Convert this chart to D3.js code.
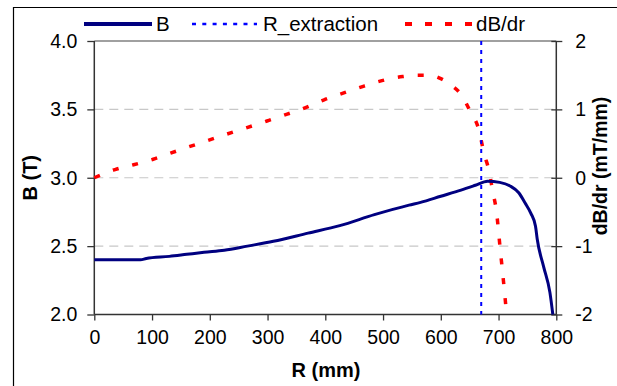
<!DOCTYPE html>
<html>
<head>
<meta charset="utf-8">
<script src="https://cdn.jsdelivr.net/npm/d3@7"></script>
<style>
  html, body { margin: 0; padding: 0; background: #fff; }
  svg { display: block; font-family: "Liberation Sans", Arial, sans-serif; }
</style>
</head>
<body>
<svg id="chart" width="617" height="386"></svg>
<script>
// Radial field profile B(R) in tesla
const radiusB = [0, 80, 90, 130, 160, 190, 225, 265, 310, 370, 425, 485, 545, 565, 600, 635, 660, 681, 702, 720, 735, 746, 756, 764, 767, 778, 789, 794];
const fieldB  = [2.40, 2.40, 2.41, 2.425, 2.44, 2.455, 2.47, 2.50, 2.535, 2.595, 2.65, 2.73, 2.80, 2.82, 2.865, 2.91, 2.945, 2.975, 2.966, 2.94, 2.89, 2.815, 2.74, 2.645, 2.55, 2.35, 2.16, 2.0];

// Field gradient dB/dr in mT/mm
const radiusD = [0, 36, 68, 102, 132, 163, 195, 230, 263, 299, 334, 367, 398, 432, 463, 498, 534, 560, 580, 600, 620, 635, 651, 666, 675, 683, 690, 696, 703, 710, 714];
const gradD   = [0, 0.12, 0.19, 0.27, 0.36, 0.45, 0.54, 0.64, 0.73, 0.83, 0.93, 1.03, 1.14, 1.24, 1.33, 1.42, 1.48, 1.50, 1.50, 1.45, 1.34, 1.22, 0.97, 0.70, 0.35, 0.12, -0.2, -0.47, -1.05, -1.64, -2.0];

// Extraction radius (mm)
const rExtraction = 670;

// Axis ticks
const xTicks = [0, 100, 200, 300, 400, 500, 600, 700, 800];
const yLeftTicks = [2.0, 2.5, 3.0, 3.5, 4.0];
const yRightTicks = [-2, -1, 0, 1, 2];

const seriesNames = ["B", "R_extraction", "dB/dr"];

const svg = d3.select("#chart");
const plotLeft = 94.3, plotRight = 556.3, plotTop = 41, plotBottom = 314.5;
const font = "'Liberation Sans', Arial, sans-serif";

const x = d3.scaleLinear().domain([0, 800]).range([plotLeft, plotRight]);
const yL = d3.scaleLinear().domain([2, 4]).range([plotBottom, plotTop]);
const yR = d3.scaleLinear().domain([-2, 2]).range([plotBottom, plotTop]);

// Outer frame
svg.append("path")
  .attr("d", "M13.5,400 V7.5 H640")
  .attr("fill", "none").attr("stroke", "#000").attr("stroke-width", 1.2);

// Horizontal gridlines
svg.append("g").selectAll("line")
  .data([2.5, 3.0, 3.5]).join("line")
  .attr("x1", plotLeft).attr("x2", plotRight)
  .attr("y1", d => yL(d)).attr("y2", d => yL(d))
  .attr("stroke", "#c8c8c8").attr("stroke-width", 1.2)
  .attr("stroke-dasharray", "9,6");

// Top border of plot area
svg.append("line")
  .attr("x1", plotLeft).attr("x2", plotRight)
  .attr("y1", yL(4)).attr("y2", yL(4))
  .attr("stroke", "#808080").attr("stroke-width", 1.5);

// Left axis
const gL = svg.append("g").attr("transform", `translate(${plotLeft},0)`)
  .call(d3.axisLeft(yL).tickValues(yLeftTicks).tickFormat(d3.format(".1f")).tickSize(7).tickPadding(10));
// Right axis
const gR = svg.append("g").attr("transform", `translate(${plotRight},0)`)
  .call(d3.axisRight(yR).tickValues(yRightTicks).tickFormat(d => d < 0 ? "-" + Math.abs(d) : d).tickSize(6).tickPadding(13));
gR.selectAll(".tick line").attr("x1", -5);
// Bottom axis
const gB = svg.append("g").attr("transform", `translate(0,${plotBottom})`)
  .call(d3.axisBottom(x).tickValues(xTicks).tickSize(6).tickPadding(10));

[gL, gR, gB].forEach(g => {
  g.select(".domain").attr("stroke", "#333").attr("stroke-width", 1.5);
  g.selectAll(".tick line").attr("stroke", "#333").attr("stroke-width", 1.3);
  g.selectAll(".tick text").attr("font-family", font).attr("font-size", "19.5px").attr("fill", "#000");
});
gB.select(".domain").attr("d", `M${plotLeft},0H${plotRight}`);
gL.select(".domain").attr("d", `M0,${plotTop}V${plotBottom}`);
gR.select(".domain").attr("d", `M0,${plotTop}V${plotBottom}`);

// Axis titles
svg.append("text")
  .attr("transform", `translate(37,${(plotTop + plotBottom) / 2}) rotate(-90)`)
  .attr("text-anchor", "middle").attr("font-family", font)
  .attr("font-weight", "bold").attr("font-size", "20px").text("B (T)");
svg.append("text")
  .attr("transform", `translate(607,166) rotate(-90)`)
  .attr("text-anchor", "middle").attr("font-family", font)
  .attr("font-weight", "bold").attr("font-size", "19.5px").text("dB/dr (mT/mm)");
svg.append("text")
  .attr("x", 326).attr("y", 377)
  .attr("text-anchor", "middle").attr("font-family", font)
  .attr("font-weight", "bold").attr("font-size", "20px").text("R (mm)");

// Data lines
const lineB = d3.line().x((d, i) => x(radiusB[i])).y(d => yL(d)).curve(d3.curveMonotoneX);
const lineD = d3.line().x((d, i) => x(radiusD[i])).y(d => yR(d)).curve(d3.curveMonotoneX);

svg.append("path").datum(gradD)
  .attr("d", lineD).attr("fill", "none")
  .attr("stroke", "#ff0000").attr("stroke-width", 3.5)
  .attr("stroke-dasharray", "6,14");

svg.append("path").datum(fieldB)
  .attr("d", lineB).attr("fill", "none")
  .attr("stroke", "#000080").attr("stroke-width", 3)
  .attr("stroke-linejoin", "round");

svg.append("line")
  .attr("x1", x(rExtraction)).attr("x2", x(rExtraction))
  .attr("y1", plotTop).attr("y2", plotBottom)
  .attr("stroke", "#0000ff").attr("stroke-width", 2)
  .attr("stroke-dasharray", "4,5");

// Legend
const legend = svg.append("g");
legend.append("rect")
  .attr("x", 80).attr("y", 10).attr("width", 455).attr("height", 25)
  .attr("fill", "#fff");
const legendItems = [
  { name: seriesNames[0], x1: 84, x2: 152, tx: 156, color: "#000080", w: 4, dash: null },
  { name: seriesNames[1], x1: 192, x2: 257, tx: 263, color: "#0000ff", w: 2.5, dash: "4,6.3" },
  { name: seriesNames[2], x1: 405, x2: 473, tx: 476, color: "#ff0000", w: 4, dash: "7,13" }
];
legendItems.forEach(it => {
  legend.append("line")
    .attr("x1", it.x1).attr("x2", it.x2).attr("y1", 24).attr("y2", 24)
    .attr("stroke", it.color).attr("stroke-width", it.w)
    .attr("stroke-dasharray", it.dash);
  legend.append("text")
    .attr("x", it.tx).attr("y", 30.5)
    .attr("font-family", font).attr("font-size", "20.5px").text(it.name);
});
</script>
</body>
</html>
